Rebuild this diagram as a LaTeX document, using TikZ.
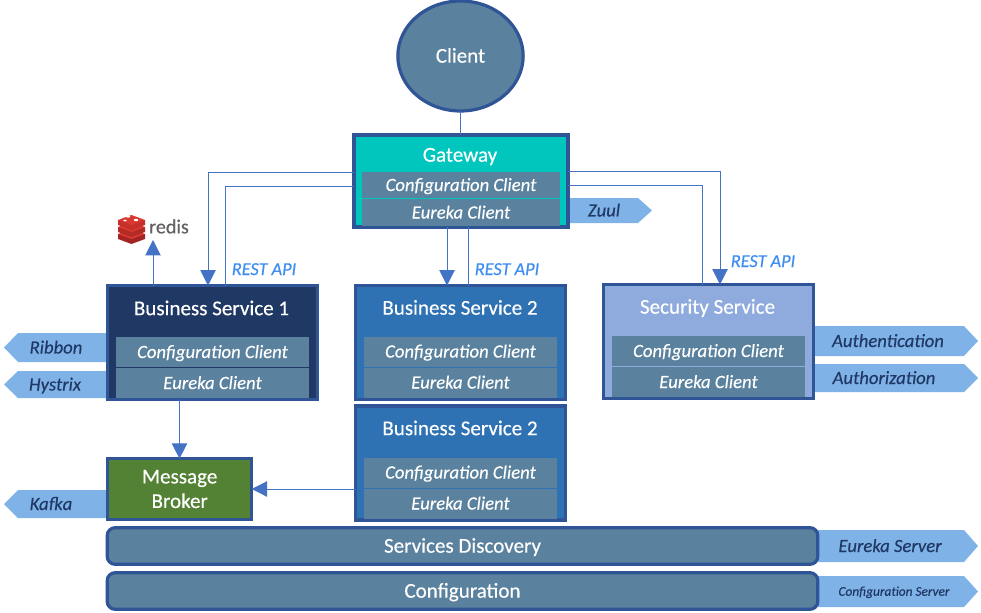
\documentclass[tikz,border=0pt]{standalone}
\usepackage{fontspec}
\setmainfont{Carlito}[UprightFeatures={FakeBold=0.35},ItalicFeatures={FakeBold=0.35}]
\usetikzlibrary{arrows.meta,shapes.geometric}
\definecolor{edgeblue}{HTML}{2F5597}
\definecolor{linkblue}{HTML}{4472C4}
\definecolor{steel}{HTML}{5A819D}
\definecolor{tagblue}{HTML}{7FB3E8}
\definecolor{navy}{HTML}{203864}
\definecolor{gatefill}{HTML}{00C6BD}
\definecolor{bizblue}{HTML}{2E72B4}
\definecolor{secfill}{HTML}{8FAADC}
\definecolor{msgfill}{HTML}{548235}
\definecolor{restblue}{HTML}{3D8EF0}
\definecolor{redisa}{HTML}{A32422}
\definecolor{redisb}{HTML}{B32B27}
\definecolor{redisc}{HTML}{C6302B}
\definecolor{redistop}{HTML}{D8382F}
\tikzset{
  x=0.75pt,y=-0.75pt,
  box/.style={draw=edgeblue,line width=2.4pt,outer sep=0pt,inner sep=0pt},
  title/.style={text=white,font=\fontsize{15.8}{18}\selectfont,inner sep=0pt,text height=10pt,text depth=0pt},
  client/.style={fill=steel,draw=none,outer sep=0pt,inner sep=0pt,text=white,
     font=\fontsize{14}{16}\itshape\selectfont,minimum height=22.5pt,text height=9pt,text depth=0pt},
  tagtext/.style={text=navy,font=\fontsize{14}{16}\itshape\selectfont,inner sep=0pt,text height=9pt,text depth=0pt},
  rest/.style={text=restblue,font=\fontsize{13.7}{16}\itshape\selectfont,inner sep=0pt,text height=9pt,text depth=0pt},
  link/.style={draw=linkblue,line width=0.75pt},
  arrowlink/.style={link,-{Triangle[length=11.5pt,width=11.5pt,fill=linkblue]}},
}
\newcommand{\tagright}[7]{%
  \fill[tagblue] (#2,#4) -- (#3-14,#4) -- (#3,#4/2+#5/2) -- (#3-14,#5) -- (#2,#5) -- cycle;
  \node[tagtext] (#1) at (#6,#4/2+#5/2) {#7};}
\newcommand{\tagleft}[7]{%
  \fill[tagblue] (#3,#4) -- (#2+14,#4) -- (#2,#4/2+#5/2) -- (#2+14,#5) -- (#3,#5) -- cycle;
  \node[tagtext] (#1) at (#6,#4/2+#5/2) {#7};}
\begin{document}
\begin{tikzpicture}
\useasboundingbox (0,0) rectangle (981,613);
% tags
\tagright{zuul}{569}{652}{198}{223}{604}{Zuul}
\tagleft{ribbon}{4}{108}{333}{362}{56}{Ribbon}
\tagleft{hystrix}{4}{108}{371}{398}{55}{Hystrix}
\tagleft{kafka}{4}{108}{490}{518}{51}{Kafka}
\tagright{auth}{813}{978}{326}{356}{888}{Authentication}
\tagright{authz}{813}{978}{364}{392}{884}{Authorization}
\tagright{eureka}{818}{978}{530}{562}{890}{Eureka Server}
\fill[tagblue] (818,576) -- (964,576) -- (978,591.5) -- (964,607) -- (818,607) -- cycle;
\node[tagtext,font=\fontsize{10}{12}\itshape\selectfont,text height=6.4pt] (configsrv) at (894,591.5) {Configuration Server};
% client
\node[ellipse,box,fill=steel,minimum width=94pt,minimum height=82.5pt,title] (cl) at (460.5,56) {Client};
% gateway
\node[box,fill=gatefill,minimum width=160.5pt,minimum height=69pt] (gw) at (461,181) {};
\node[title] (gwt) at (460,155) {Gateway};
\node[client,minimum width=148.5pt,minimum height=20pt] (gw1) at (461,185) {Configuration Client};
\node[client,minimum width=148.5pt,minimum height=20.25pt] (gw2) at (461,212.5) {Eureka Client};
% business 1
\node[box,fill=navy,minimum width=157.5pt,minimum height=85.5pt] (b1) at (212.5,342.5) {};
\node[title] (b1t) at (211.5,308.5) {Business Service 1};
\node[client,minimum width=144.75pt] (b1a) at (212.5,352) {Configuration Client};
\node[client,minimum width=144.75pt] (b1b) at (212.5,383) {Eureka Client};
% business 2 upper
\node[box,fill=bizblue,minimum width=157.5pt,minimum height=85.5pt] (b2) at (460.5,342.5) {};
\node[title] (b2t) at (460,308) {Business Service 2};
\node[client,minimum width=144.75pt] (b2a) at (460.5,351.5) {Configuration Client};
\node[client,minimum width=144.75pt] (b2b) at (460.5,382.5) {Eureka Client};
% business 2 lower
\node[box,fill=bizblue,minimum width=157.5pt,minimum height=85.5pt] (b3) at (460.5,463) {};
\node[title] (b3t) at (460,428.5) {Business Service 2};
\node[client,minimum width=144.75pt] (b3a) at (460.5,472.5) {Configuration Client};
\node[client,minimum width=144.75pt] (b3b) at (460.5,503.5) {Eureka Client};
% security
\node[box,fill=secfill,minimum width=157.5pt,minimum height=85.5pt] (sec) at (708.5,341.5) {};
\node[title] (sect) at (707.5,307) {Security Service};
\node[client,minimum width=144.75pt] (seca) at (708.5,351) {Configuration Client};
\node[client,minimum width=144.75pt] (secb) at (708.5,382) {Eureka Client};
% message broker
\node[box,fill=msgfill,minimum width=108pt,minimum height=45.5pt,text=white,align=center,
  font=\fontsize{15.8}{18.4}\selectfont] (mb) at (179.7,489) {Message\\Broker};
% bars
\node[box,fill=steel,rounded corners=6pt,minimum width=533pt,minimum height=27.5pt,title] (disc) at (462.5,546) {Services Discovery};
\node[box,fill=steel,rounded corners=6pt,minimum width=533pt,minimum height=27.5pt,title] (conf) at (462.5,591) {Configuration};
% redis logo
\foreach \yy/\cc in {231/redisa,224/redisb,217/redisc}{
  \fill[fill=\cc] (118,\yy+3) -- (118,\yy+8) -- (131.5,\yy+13) -- (145,\yy+8) -- (145,\yy+3) -- cycle;
  \fill[fill=redistop] (118,\yy+3) -- (131.5,\yy-2) -- (145,\yy+3) -- (131.5,\yy+8) -- cycle;
}
\fill[white] (128,216.5) circle[x radius=2.2,y radius=1.2];
\fill[white] (136,220) circle[x radius=2.2,y radius=1.2];
\fill[white] (125,220.5) circle[x radius=1.8,y radius=1];
\node[text=black!62,font=\fontsize{15}{18}\selectfont,inner sep=0pt] (redis) at (169,226.5) {redis};
\coordinate (redistip) at (153,240);
% connectors
\draw[link] (cl.south) -- (gw.north -| cl.south);
\draw[arrowlink] (gw.west |- 0,172.5) -| (208,0 |- b1.north);
\draw[link] (gw.west |- 0,186) -| (225,0 |- b1.north);
\draw[arrowlink] (gw.east |- 0,172) -| (720,0 |- sec.north);
\draw[link] (gw.east |- 0,185.5) -| (702,0 |- sec.north);
\draw[arrowlink] (447,0 |- gw.south) -- (447,0 |- b2.north);
\draw[link] (468,0 |- gw.south) -- (468,0 |- b2.north);
\draw[arrowlink] (153,0 |- b1.north) -- (redistip);
\draw[arrowlink] (b1.south -| 179.5,0) -- (mb.north -| 179.5,0);
\draw[arrowlink] (b3.west |- 0,489) -- (mb.east |- 0,489);
% labels
\node[rest] (r1) at (264,269) {REST API};
\node[rest] (r2) at (507,269) {REST API};
\node[rest] (r3) at (763,261) {REST API};
\end{tikzpicture}
\end{document}
